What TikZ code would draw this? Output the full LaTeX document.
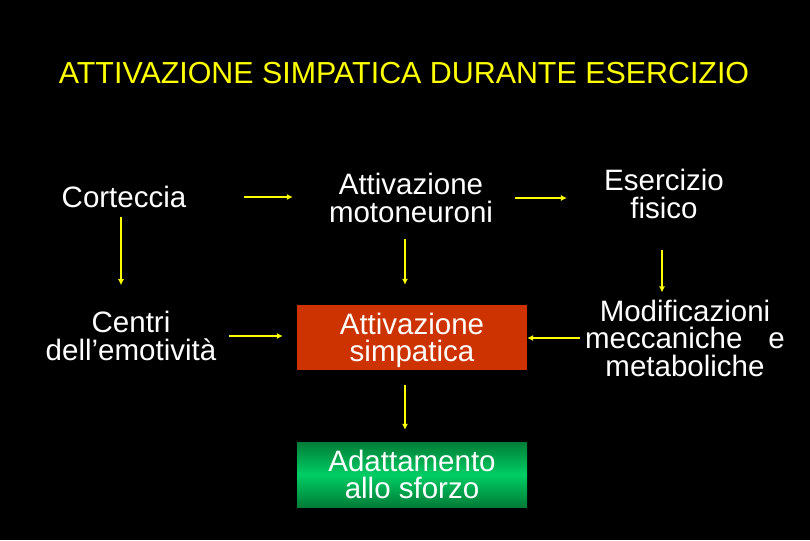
\documentclass[tikz,border=0pt]{standalone}
\usepackage{fontspec}
\setmainfont{Liberation Sans}
\usetikzlibrary{positioning,arrows.meta}
\definecolor{Yel}{rgb}{1,1,0}
\definecolor{RedBox}{RGB}{204,51,0}
\definecolor{GreenDark}{RGB}{0,125,55}
\definecolor{GreenLight}{RGB}{0,205,100}

\begin{document}
\begin{tikzpicture}[x=1pt, y=-1pt,
		every node/.style={text=white, inner sep=0pt, align=center, font=\fontsize{29.5}{27.5}\selectfont},
		box/.style={minimum width=230pt, minimum height=65pt},
		arr/.style={-{Latex[length=6pt,width=6pt]}, draw=Yel, line width=2pt}
		]
		\fill[black] (0,0) rectangle (810,540);
		\useasboundingbox (0,0) rectangle (810,540);

		\node[text=Yel, font=\fontsize{30.4}{32}\selectfont] (title) at (404,73) {ATTIVAZIONE SIMPATICA DURANTE ESERCIZIO};
		\node (cort) at (124,197) {Corteccia};
		\node (motor) at (411,198) {Attivazione\\motoneuroni};
		\node (eserc) at (664,194) {Esercizio\\fisico};
		\node (centri) at (131,336) {Centri\\dell’emotività};
		\node[box, fill=RedBox, text depth=0pt] (simp) at (412,337.5) {Attivazione\\simpatica};
		\node (modif) at (685,338) {Modificazioni\\meccaniche\hspace{26pt}e\\metaboliche};
		\node[box, top color=GreenDark, bottom color=GreenDark, middle color=GreenLight] (adatt) at (412,474.5) {Adattamento\\allo sforzo};

		\draw[arr, shorten <=57pt, shorten >=36pt] (cort.east) -- (cort.east -| motor.west);
		\draw[arr, shorten <=22pt, shorten >=37pt] (motor.east) -- (motor.east -| eserc.west);
		\draw[arr, shorten <=9pt, shorten >=26pt] ([xshift=-3pt]cort.south) -- ([xshift=-3pt]cort.south |- centri.north);
		\draw[arr, shorten <=16pt, shorten >=20pt] ([xshift=-6pt]motor.south) -- ([xshift=-6pt]motor.south |- simp.north);
		\draw[arr, shorten <=15pt, shorten >=12pt] ([xshift=-7pt]simp.south) -- ([xshift=-7pt]adatt.north);
		\draw[arr, shorten <=31pt, shorten >=7pt] ([xshift=-2pt]eserc.south) -- ([xshift=-2pt]eserc.south |- modif.north);
		\draw[arr, shorten <=13pt, shorten >=14pt] (centri.east) -- (centri.east -| simp.west);
		\draw[arr, shorten <=5pt] (modif.west) -- (modif.west -| simp.east);
	\end{tikzpicture}
\end{document}
